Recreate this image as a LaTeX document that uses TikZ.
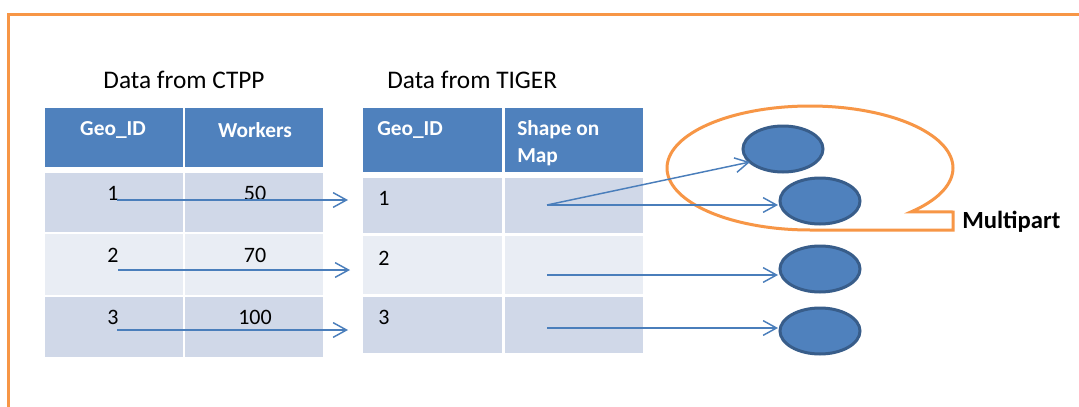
\documentclass[tikz,border=0pt]{standalone}
\usepackage{fontspec}
\setmainfont{Carlito}
\usetikzlibrary{shapes.geometric,arrows.meta}
\definecolor{hdr}{HTML}{4F81BD}
\definecolor{rowa}{HTML}{D0D8E8}
\definecolor{rowb}{HTML}{E9EDF4}
\definecolor{edgeblue}{HTML}{385D8A}
\definecolor{lnk}{HTML}{4A7EBB}
\definecolor{org}{HTML}{F79646}
\begin{document}
\begin{tikzpicture}[x=0.75pt,y=-0.75pt,
  titletext/.style={font=\fontsize{19}{23}\selectfont, inner sep=0pt},
  hdrtext/.style={font=\fontsize{16}{20}\selectfont\bfseries, text=white, inner sep=0pt},
  celltext/.style={font=\fontsize{16.5}{20}\selectfont, inner sep=0pt},
  link/.style={draw=lnk, line width=1.1pt, -{Straight Barb[length=10pt,width=11pt,line width=1.1pt]}},
  blob/.style={ellipse, draw=edgeblue, fill=hdr, line width=2.25pt, minimum width=60pt, minimum height=34.5pt, inner sep=0pt}
]
\useasboundingbox (0,0) rectangle (1079,407);
\fill[white] (0,0) rectangle (1079,407);
% border
\draw[org, line width=2.25pt] (8,407) -- (8,14) -- (1079,14);

% titles
\node[titletext] (t1) at (184,80) {Data from CTPP};
\node[titletext, anchor=west] (t2) at (387,80) {Data from TIGER};

% left table
\fill[hdr] (45,108) rectangle (183,167);
\fill[hdr] (185,108) rectangle (323,167);
\fill[rowa] (45,173) rectangle (183,232);
\fill[rowa] (185,173) rectangle (323,232);
\fill[rowb] (45,234) rectangle (183,295);
\fill[rowb] (185,234) rectangle (323,295);
\fill[rowa] (45,297) rectangle (183,357);
\fill[rowa] (185,297) rectangle (323,357);

\node[hdrtext] (lh1) at (113,130) {Geo\_ID};
\node[hdrtext] (lh2) at (255,130) {Workers};
\node[celltext] (la1) at (113,193) {1};
\node[celltext] (lb1) at (255,193) {50};
\node[celltext] (la2) at (113,255) {2};
\node[celltext] (lb2) at (255,255) {70};
\node[celltext] (la3) at (113,317) {3};
\node[celltext] (lb3) at (255,317) {100};

% right table
\fill[hdr] (363,108) rectangle (502,172);
\fill[hdr] (505,108) rectangle (643,172);
\fill[rowa] (363,178) rectangle (502,233);
\fill[rowa] (505,178) rectangle (643,233);
\fill[rowb] (363,236) rectangle (502,294);
\fill[rowb] (505,236) rectangle (643,294);
\fill[rowa] (363,297) rectangle (502,353);
\fill[rowa] (505,297) rectangle (643,353);

\node[hdrtext, anchor=west] (rh1) at (377,130) {Geo\_ID};
\node[hdrtext, anchor=west, align=left] (rh2) at (517,143) {Shape on\\Map};
\node[celltext, anchor=west] (ra1) at (378,198) {1};
\node[celltext, anchor=west] (ra2) at (378,258) {2};
\node[celltext, anchor=west] (ra3) at (378,317) {3};

% callout
\draw[org, line width=2.25pt, line join=miter]
  plot[domain=45:-270, samples=120, smooth] ({810+143*cos(\x)},{168+62*sin(\x)})
  -- (953,230) -- (953,212) -- cycle;
\node[font=\fontsize{18.5}{22}\selectfont\bfseries, anchor=west, inner sep=0pt] (mp) at (962,222) {Multipart};

% ellipses
\node[blob] (e1) at (783,149) {};
\node[blob] (e2) at (820,201) {};
\node[blob] (e3) at (820,269) {};
\node[blob] (e4) at (820,331) {};

% connector coordinates
\coordinate (s1) at (117,200); \coordinate (d1) at (348,200);
\coordinate (s2) at (118,270); \coordinate (d2) at (350,270);
\coordinate (s3) at (117,330); \coordinate (d3) at (348,330);
\coordinate (m1) at (547,205);
\coordinate (m2) at (547,275);
\coordinate (m3) at (547,328);
\coordinate (f1) at (750,162);
\coordinate (f2) at (778,205);
\coordinate (f3) at (778,275);
\coordinate (f4) at (778,328);

\draw[link] (s1) -- (d1);
\draw[link] (s2) -- (d2);
\draw[link] (s3) -- (d3);
\draw[link] (m1) -- (f1);
\draw[link] (m1) -- (f2);
\draw[link] (m2) -- (f3);
\draw[link] (m3) -- (f4);
\end{tikzpicture}
\end{document}
